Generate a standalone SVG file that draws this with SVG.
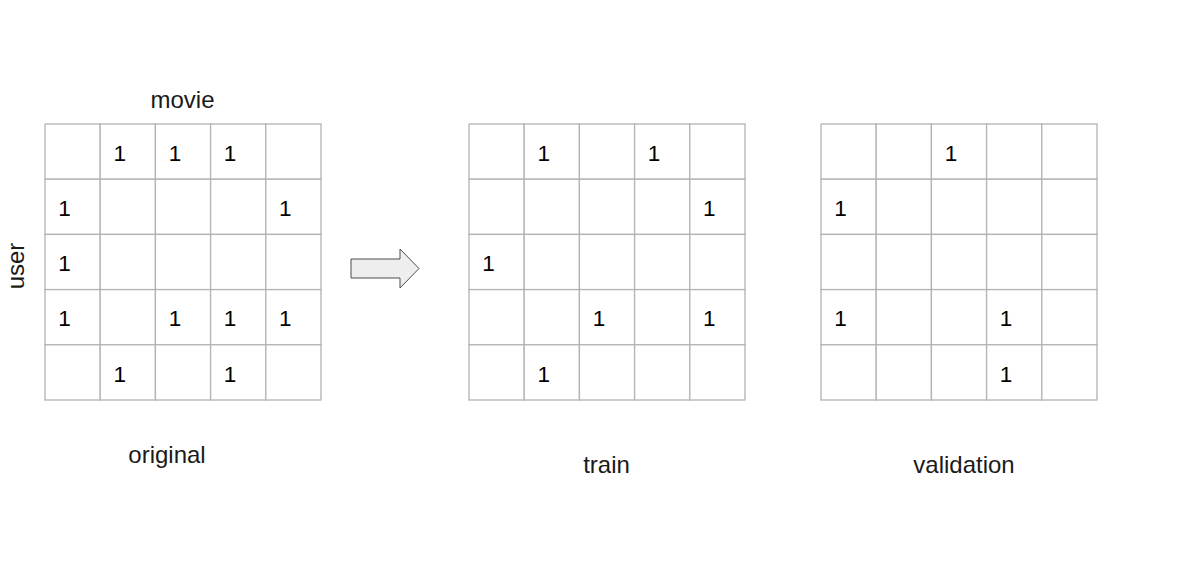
<svg xmlns="http://www.w3.org/2000/svg" width="1177" height="583" viewBox="0 0 1177 583">
<style>
.cell{fill:#ffffff;stroke:#b3b3b3;stroke-width:1.3}
.d{font-family:"Liberation Sans",Arial,sans-serif;font-size:22.5px;fill:#000;text-anchor:middle}
.lbl{font-family:"Liberation Sans",Arial,sans-serif;font-size:24px;fill:#1a1a1a;text-anchor:middle}
</style>
<defs>
<g id="grid">
<rect class="cell" x="0" y="0" width="55.2" height="55.2"/><rect class="cell" x="55.2" y="0" width="55.2" height="55.2"/><rect class="cell" x="110.4" y="0" width="55.2" height="55.2"/><rect class="cell" x="165.6" y="0" width="55.2" height="55.2"/><rect class="cell" x="220.8" y="0" width="55.2" height="55.2"/>
<rect class="cell" x="0" y="55.2" width="55.2" height="55.2"/><rect class="cell" x="55.2" y="55.2" width="55.2" height="55.2"/><rect class="cell" x="110.4" y="55.2" width="55.2" height="55.2"/><rect class="cell" x="165.6" y="55.2" width="55.2" height="55.2"/><rect class="cell" x="220.8" y="55.2" width="55.2" height="55.2"/>
<rect class="cell" x="0" y="110.4" width="55.2" height="55.2"/><rect class="cell" x="55.2" y="110.4" width="55.2" height="55.2"/><rect class="cell" x="110.4" y="110.4" width="55.2" height="55.2"/><rect class="cell" x="165.6" y="110.4" width="55.2" height="55.2"/><rect class="cell" x="220.8" y="110.4" width="55.2" height="55.2"/>
<rect class="cell" x="0" y="165.6" width="55.2" height="55.2"/><rect class="cell" x="55.2" y="165.6" width="55.2" height="55.2"/><rect class="cell" x="110.4" y="165.6" width="55.2" height="55.2"/><rect class="cell" x="165.6" y="165.6" width="55.2" height="55.2"/><rect class="cell" x="220.8" y="165.6" width="55.2" height="55.2"/>
<rect class="cell" x="0" y="220.8" width="55.2" height="55.2"/><rect class="cell" x="55.2" y="220.8" width="55.2" height="55.2"/><rect class="cell" x="110.4" y="220.8" width="55.2" height="55.2"/><rect class="cell" x="165.6" y="220.8" width="55.2" height="55.2"/><rect class="cell" x="220.8" y="220.8" width="55.2" height="55.2"/>
</g>
</defs>
<rect width="1177" height="583" fill="#ffffff"/>

<g id="original">
<use href="#grid" x="45" y="124"/>
<text class="d" x="119.7" y="160.8">1</text><text class="d" x="174.9" y="160.8">1</text><text class="d" x="230.1" y="160.8">1</text>
<text class="d" x="64.5" y="216">1</text><text class="d" x="285.3" y="216">1</text>
<text class="d" x="64.5" y="271.2">1</text>
<text class="d" x="64.5" y="326.4">1</text><text class="d" x="174.9" y="326.4">1</text><text class="d" x="230.1" y="326.4">1</text><text class="d" x="285.3" y="326.4">1</text>
<text class="d" x="119.7" y="381.6">1</text><text class="d" x="230.1" y="381.6">1</text>
</g>

<g id="train">
<use href="#grid" x="469" y="124"/>
<text class="d" x="543.7" y="160.8">1</text><text class="d" x="654.1" y="160.8">1</text>
<text class="d" x="709.3" y="216">1</text>
<text class="d" x="488.5" y="271.2">1</text>
<text class="d" x="598.9" y="326.4">1</text><text class="d" x="709.3" y="326.4">1</text>
<text class="d" x="543.7" y="381.6">1</text>
</g>

<g id="validation">
<use href="#grid" x="821" y="124"/>
<text class="d" x="950.9" y="160.8">1</text>
<text class="d" x="840.5" y="216">1</text>
<text class="d" x="840.5" y="326.4">1</text><text class="d" x="1006.1" y="326.4">1</text>
<text class="d" x="1006.1" y="381.6">1</text>
</g>

<g id="labels">
<text class="lbl" x="182.5" y="107.5">movie</text>
<text class="lbl" transform="translate(24,266) rotate(-90)" x="0" y="0">user</text>
<text class="lbl" x="167" y="462.5">original</text>
<text class="lbl" x="606.5" y="472.5">train</text>
<text class="lbl" x="964" y="472.5">validation</text>
</g>

<g id="connectors">
<path d="M351,259 H400 V249 L419,268.5 L400,288 V278 H351 Z" fill="#eeeeee" stroke="#4d4d4d" stroke-width="1"/>
</g>
</svg>
